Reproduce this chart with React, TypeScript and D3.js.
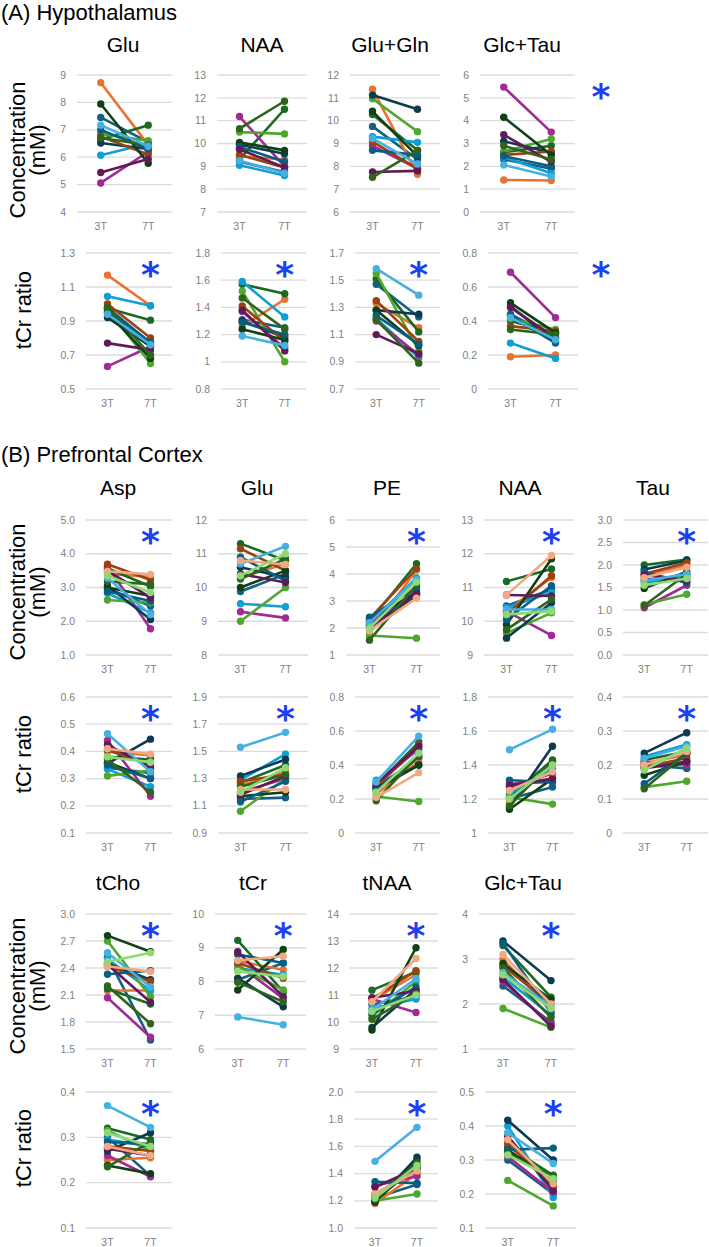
import * as d3 from 'd3';

const sessions = ['3T', '7T'];

// subject colours (Office palette order)
const hypColors = ['#156082', '#E97132', '#196B24', '#0F9ED5', '#A02B93', '#4EA72E', '#0D3A4E', '#9A4311', '#0F4016', '#095F80', '#601A58', '#2F641C', '#46B0E1'];
const pfcColors = [...hypColors, '#F1A983', '#8ED973'];

// Hypothalamus, concentration (mM): [3T, 7T] per subject
const hypGluConc: [number, number][] = [[7.45, 6.55], [8.72, 6.45], [6.65, 7.17], [6.07, 6.5], [5.06, 6.2], [6.85, 6.6], [6.52, 6.3], [6.75, 6.1], [7.94, 5.78], [6.99, 6.3], [5.44, 5.93], [6.7, 6.45], [7.17, 6.4]];
const hypNaaConc: [number, number][] = [[9.2, 8.75], [9.45, 9.3], [9.3, 11.5], [9.05, 8.6], [11.18, 9.0], [10.5, 10.42], [9.95, 9.55], [9.5, 8.95], [10.05, 9.7], [9.85, 9.2], [9.75, 8.95], [10.65, 11.85], [9.25, 8.7]];
const hypGlxConc: [number, number][] = [[9.75, 8.3], [11.38, 7.65], [10.27, 8.7], [9.3, 9.05], [8.9, 7.9], [10.96, 9.52], [11.12, 10.5], [9.08, 7.9], [10.41, 8.45], [8.7, 8.5], [7.75, 7.8], [7.52, 8.7], [9.22, 8.1]];
const hypGlcTauConc: [number, number][] = [[2.3, 1.9], [1.4, 1.38], [2.62, 2.9], [2.4, 1.7], [5.47, 3.5], [2.65, 3.2], [3.1, 2.6], [2.5, 2.65], [4.15, 2.5], [2.45, 2.0], [3.38, 2.2], [2.9, 2.3], [2.06, 1.55]];

// Hypothalamus, ratio to tCr
const hypGluRatio: [number, number][] = [[0.98, 0.77], [1.17, 0.99], [0.975, 0.905], [1.045, 0.99], [0.633, 0.75], [0.97, 0.65], [0.92, 0.75], [1.0, 0.8], [0.95, 0.68], [0.96, 0.775], [0.77, 0.73], [0.98, 0.7], [0.94, 0.76]];
const hypNaaRatio: [number, number][] = [[1.31, 1.25], [1.26, 1.46], [1.57, 1.5], [1.59, 1.33], [1.37, 1.1], [1.52, 1.0], [1.3, 1.18], [1.41, 1.15], [1.24, 1.16], [1.29, 1.2], [1.38, 1.08], [1.47, 1.24], [1.19, 1.12]];
const hypGlxRatio: [number, number][] = [[1.47, 1.23], [1.33, 1.15], [1.51, 1.12], [1.22, 0.93], [1.2, 0.95], [1.55, 0.98], [1.28, 1.25], [1.35, 1.05], [1.28, 1.02], [1.24, 1.03], [1.1, 0.96], [1.21, 0.89], [1.585, 1.39]];
const hypGlcTauRatio: [number, number][] = [[0.44, 0.3], [0.19, 0.2], [0.4, 0.33], [0.27, 0.18], [0.687, 0.42], [0.415, 0.35], [0.486, 0.28], [0.37, 0.34], [0.507, 0.33], [0.43, 0.27], [0.48, 0.3], [0.35, 0.32], [0.42, 0.29]];

// Prefrontal cortex, concentration (mM)
const pfcAspConc: [number, number][] = [[2.97, 2.45], [3.4, 3.32], [3.57, 3.03], [2.83, 2.25], [3.62, 1.78], [2.63, 2.55], [3.05, 2.05], [3.69, 3.22], [3.0, 2.75], [2.88, 2.6], [3.5, 2.7], [3.18, 3.1], [3.28, 2.2], [3.48, 3.39], [3.35, 2.85]];
const pfcGluConc: [number, number][] = [[9.88, 10.4], [10.3, 10.7], [11.3, 10.8], [9.52, 9.43], [9.28, 9.1], [9.0, 10.0], [10.6, 10.3], [11.15, 10.5], [10.0, 10.5], [10.9, 10.2], [10.4, 10.15], [10.25, 10.85], [10.7, 11.22], [10.8, 10.68], [10.35, 11.0]];
const pfcPeConc: [number, number][] = [[2.1, 3.3], [1.8, 4.15], [2.25, 4.38], [2.2, 3.85], [2.15, 3.4], [1.72, 1.62], [2.3, 3.3], [2.35, 4.2], [2.05, 3.2], [2.4, 3.5], [2.0, 3.25], [1.55, 3.6], [2.2, 3.8], [1.9, 3.1], [2.0, 3.7]];
const pfcNaaConc: [number, number][] = [[10.45, 10.95], [10.3, 11.3], [11.18, 11.55], [10.4, 10.85], [10.3, 9.58], [9.65, 10.25], [9.5, 10.55], [10.2, 11.35], [9.9, 11.85], [10.05, 11.05], [10.78, 10.75], [9.75, 10.65], [10.35, 10.35], [10.78, 11.95], [10.2, 10.3]];
const pfcTauConc: [number, number][] = [[1.68, 1.7], [1.75, 2.0], [2.0, 2.12], [1.6, 1.75], [1.05, 1.55], [1.12, 1.35], [1.9, 2.1], [1.8, 2.05], [1.48, 1.85], [1.85, 1.6], [1.78, 1.65], [1.1, 1.8], [1.65, 1.8], [1.72, 1.95], [1.55, 1.7]];
const pfcChoConc: [number, number][] = [[2.52, 1.6], [2.15, 2.15], [2.17, 2.0], [2.5, 2.15], [2.07, 1.63], [2.7, 2.08], [2.45, 2.27], [2.42, 2.25], [2.76, 2.58], [2.33, 2.37], [2.44, 2.02], [2.2, 1.78], [2.57, 2.19], [2.42, 2.36], [2.47, 2.57]];
const pfcCrConc: [number, number][] = [[8.05, 8.55], [8.6, 8.35], [9.22, 7.7], [8.4, 8.2], [8.5, 7.5], [8.45, 7.75], [8.1, 7.25], [8.55, 8.1], [7.75, 8.95], [8.8, 8.55], [8.88, 7.55], [7.98, 7.4], [6.95, 6.72], [8.62, 8.75], [8.3, 8.15]];
const pfcTnaaConc: [number, number][] = [[10.65, 10.95], [10.8, 11.75], [11.18, 11.85], [10.5, 10.85], [10.85, 10.35], [10.2, 11.5], [9.8, 11.2], [10.85, 11.9], [9.7, 12.75], [10.3, 11.3], [10.9, 11.15], [10.1, 11.05], [10.45, 11.6], [10.75, 12.35], [10.4, 11.0]];
const pfcGlcTauConc: [number, number][] = [[2.4, 1.6], [3.0, 1.85], [3.3, 2.15], [2.6, 1.75], [2.5, 1.55], [1.9, 1.48], [3.4, 2.52], [2.85, 2.0], [2.9, 2.1], [3.35, 1.8], [2.55, 1.5], [2.8, 1.7], [2.7, 1.95], [3.1, 2.0], [2.65, 1.9]];

// Prefrontal cortex, ratio to tCr
const pfcAspRatio: [number, number][] = [[0.34, 0.32], [0.4, 0.385], [0.38, 0.37], [0.335, 0.27], [0.44, 0.235], [0.31, 0.33], [0.355, 0.445], [0.405, 0.35], [0.36, 0.3], [0.35, 0.3], [0.425, 0.34], [0.37, 0.25], [0.465, 0.325], [0.41, 0.39], [0.38, 0.36]];
const pfcGluRatio: [number, number][] = [[1.15, 1.16], [1.25, 1.35], [1.27, 1.4], [1.29, 1.48], [1.2, 1.3], [1.06, 1.3], [1.32, 1.44], [1.28, 1.33], [1.17, 1.2], [1.13, 1.28], [1.18, 1.32], [1.24, 1.33], [1.53, 1.64], [1.22, 1.22], [1.2, 1.38]];
const pfcPeRatio: [number, number][] = [[0.27, 0.44], [0.23, 0.42], [0.28, 0.535], [0.31, 0.49], [0.28, 0.5], [0.215, 0.185], [0.26, 0.4], [0.27, 0.52], [0.265, 0.4], [0.25, 0.45], [0.29, 0.51], [0.19, 0.46], [0.3, 0.57], [0.21, 0.355], [0.24, 0.47]];
const pfcNaaRatio: [number, number][] = [[1.2, 1.27], [1.18, 1.4], [1.21, 1.43], [1.23, 1.38], [1.29, 1.3], [1.21, 1.17], [1.15, 1.51], [1.27, 1.35], [1.14, 1.32], [1.31, 1.3], [1.28, 1.32], [1.16, 1.42], [1.49, 1.61], [1.25, 1.36], [1.2, 1.4]];
const pfcTauRatio: [number, number][] = [[0.2, 0.19], [0.205, 0.23], [0.215, 0.24], [0.225, 0.26], [0.21, 0.2], [0.135, 0.152], [0.235, 0.295], [0.195, 0.22], [0.17, 0.21], [0.145, 0.235], [0.19, 0.21], [0.13, 0.235], [0.22, 0.255], [0.2, 0.24], [0.185, 0.25]];
const pfcChoRatio: [number, number][] = [[0.3, 0.215], [0.25, 0.255], [0.32, 0.295], [0.295, 0.28], [0.26, 0.213], [0.315, 0.27], [0.27, 0.31], [0.28, 0.27], [0.238, 0.22], [0.29, 0.285], [0.275, 0.26], [0.235, 0.29], [0.37, 0.322], [0.28, 0.26], [0.31, 0.28]];
const pfcTnaaRatio: [number, number][] = [[1.22, 1.32], [1.18, 1.4], [1.21, 1.5], [1.24, 1.44], [1.31, 1.38], [1.2, 1.25], [1.19, 1.52], [1.25, 1.42], [1.2, 1.46], [1.34, 1.33], [1.3, 1.44], [1.21, 1.48], [1.49, 1.74], [1.25, 1.42], [1.22, 1.46]];
const pfcGlcTauRatio: [number, number][] = [[0.3, 0.2], [0.355, 0.225], [0.34, 0.255], [0.4, 0.19], [0.31, 0.205], [0.24, 0.165], [0.417, 0.3], [0.35, 0.22], [0.33, 0.24], [0.33, 0.335], [0.37, 0.21], [0.32, 0.25], [0.38, 0.29], [0.36, 0.23], [0.315, 0.245]];

// axis tick labels, bottom to top
const hypGluConcTicks = ['4', '5', '6', '7', '8', '9'];
const hypNaaConcTicks = ['7', '8', '9', '10', '11', '12', '13'];
const hypGlxConcTicks = ['6', '7', '8', '9', '10', '11', '12'];
const hypGlcTauConcTicks = ['0', '1', '2', '3', '4', '5', '6'];
const hypGluRatioTicks = ['0.5', '0.7', '0.9', '1.1', '1.3'];
const hypNaaRatioTicks = ['0.8', '1', '1.2', '1.4', '1.6', '1.8'];
const hypGlxRatioTicks = ['0.7', '0.9', '1.1', '1.3', '1.5', '1.7'];
const hypGlcTauRatioTicks = ['0', '0.2', '0.4', '0.6', '0.8'];
const pfcAspConcTicks = ['1.0', '2.0', '3.0', '4.0', '5.0'];
const pfcGluConcTicks = ['8', '9', '10', '11', '12'];
const pfcPeConcTicks = ['1', '2', '3', '4', '5', '6'];
const pfcNaaConcTicks = ['9', '10', '11', '12', '13'];
const pfcTauConcTicks = ['0.0', '0.5', '1.0', '1.5', '2.0', '2.5', '3.0'];
const pfcAspRatioTicks = ['0.1', '0.2', '0.3', '0.4', '0.5', '0.6'];
const pfcGluRatioTicks = ['0.9', '1.1', '1.3', '1.5', '1.7', '1.9'];
const pfcPeRatioTicks = ['0', '0.2', '0.4', '0.6', '0.8'];
const pfcNaaRatioTicks = ['1', '1.2', '1.4', '1.6', '1.8'];
const pfcTauRatioTicks = ['0', '0.1', '0.2', '0.3', '0.4'];
const pfcChoConcTicks = ['1.5', '1.8', '2.1', '2.4', '2.7', '3.0'];
const pfcCrConcTicks = ['6', '7', '8', '9', '10'];
const pfcTnaaConcTicks = ['9', '10', '11', '12', '13', '14'];
const pfcGlcTauConcTicks = ['1', '2', '3', '4'];
const pfcChoRatioTicks = ['0.1', '0.2', '0.3', '0.4'];
const pfcTnaaRatioTicks = ['1.0', '1.2', '1.4', '1.6', '1.8', '2.0'];
const pfcGlcTauRatioTicks = ['0.1', '0.2', '0.3', '0.4', '0.5'];

type Row = { top: number; bottom: number };
const rowA1: Row = { top: 75, bottom: 212 };
const rowA2: Row = { top: 253, bottom: 389 };
const rowB1: Row = { top: 520, bottom: 655 };
const rowB2: Row = { top: 697, bottom: 833 };
const rowB3: Row = { top: 914, bottom: 1049 };
const rowB4: Row = { top: 1092, bottom: 1228 };

type PanelSpec = {
  pairs: [number, number][];
  ticks: string[];
  colors: string[];
  row: Row;
  x0: number;
  x1: number;
  star?: boolean;
  starX?: number;
};

const panels: PanelSpec[] = [
  { pairs: hypGluConc, ticks: hypGluConcTicks, colors: hypColors, row: rowA1, x0: 77, x1: 172 },
  { pairs: hypNaaConc, ticks: hypNaaConcTicks, colors: hypColors, row: rowA1, x0: 217, x1: 307 },
  { pairs: hypGlxConc, ticks: hypGlxConcTicks, colors: hypColors, row: rowA1, x0: 350, x1: 440 },
  { pairs: hypGlcTauConc, ticks: hypGlcTauConcTicks, colors: hypColors, row: rowA1, x0: 480, x1: 575, star: true, starX: 601 },
  { pairs: hypGluRatio, ticks: hypGluRatioTicks, colors: hypColors, row: rowA2, x0: 86, x1: 172, star: true },
  { pairs: hypNaaRatio, ticks: hypNaaRatioTicks, colors: hypColors, row: rowA2, x0: 221, x1: 306, star: true },
  { pairs: hypGlxRatio, ticks: hypGlxRatioTicks, colors: hypColors, row: rowA2, x0: 355, x1: 440, star: true },
  { pairs: hypGlcTauRatio, ticks: hypGlcTauRatioTicks, colors: hypColors, row: rowA2, x0: 488, x1: 578, star: true, starX: 601 },

  { pairs: pfcAspConc, ticks: pfcAspConcTicks, colors: pfcColors, row: rowB1, x0: 86, x1: 172, star: true },
  { pairs: pfcGluConc, ticks: pfcGluConcTicks, colors: pfcColors, row: rowB1, x0: 218, x1: 308 },
  { pairs: pfcPeConc, ticks: pfcPeConcTicks, colors: pfcColors, row: rowB1, x0: 346, x1: 440, star: true },
  { pairs: pfcNaaConc, ticks: pfcNaaConcTicks, colors: pfcColors, row: rowB1, x0: 484, x1: 574, star: true },
  { pairs: pfcTauConc, ticks: pfcTauConcTicks, colors: pfcColors, row: rowB1, x0: 623, x1: 708, star: true },
  { pairs: pfcAspRatio, ticks: pfcAspRatioTicks, colors: pfcColors, row: rowB2, x0: 86, x1: 172, star: true },
  { pairs: pfcGluRatio, ticks: pfcGluRatioTicks, colors: pfcColors, row: rowB2, x0: 218, x1: 308, star: true },
  { pairs: pfcPeRatio, ticks: pfcPeRatioTicks, colors: pfcColors, row: rowB2, x0: 355, x1: 440, star: true },
  { pairs: pfcNaaRatio, ticks: pfcNaaRatioTicks, colors: pfcColors, row: rowB2, x0: 488, x1: 574, star: true },
  { pairs: pfcTauRatio, ticks: pfcTauRatioTicks, colors: pfcColors, row: rowB2, x0: 623, x1: 708, star: true },
  { pairs: pfcChoConc, ticks: pfcChoConcTicks, colors: pfcColors, row: rowB3, x0: 86, x1: 172, star: true },
  { pairs: pfcCrConc, ticks: pfcCrConcTicks, colors: pfcColors, row: rowB3, x0: 215, x1: 306, star: true },
  { pairs: pfcTnaaConc, ticks: pfcTnaaConcTicks, colors: pfcColors, row: rowB3, x0: 350, x1: 438, star: true },
  { pairs: pfcGlcTauConc, ticks: pfcGlcTauConcTicks, colors: pfcColors, row: rowB3, x0: 479, x1: 575, star: true },
  { pairs: pfcChoRatio, ticks: pfcChoRatioTicks, colors: pfcColors, row: rowB4, x0: 86, x1: 172, star: true },
  { pairs: pfcTnaaRatio, ticks: pfcTnaaRatioTicks, colors: pfcColors, row: rowB4, x0: 354, x1: 438, star: true },
  { pairs: pfcGlcTauRatio, ticks: pfcGlcTauRatioTicks, colors: pfcColors, row: rowB4, x0: 485, x1: 576, star: true },
];

const panelTitles = [
  { text: 'Glu', x: 123, y: 52 }, { text: 'NAA', x: 262, y: 52 }, { text: 'Glu+Gln', x: 390, y: 52 }, { text: 'Glc+Tau', x: 522, y: 52 },
  { text: 'Asp', x: 118, y: 495 }, { text: 'Glu', x: 257, y: 495 }, { text: 'PE', x: 387, y: 495 }, { text: 'NAA', x: 520, y: 495 }, { text: 'Tau', x: 653, y: 495 },
  { text: 'tCho', x: 118, y: 890 }, { text: 'tCr', x: 253, y: 890 }, { text: 'tNAA', x: 387, y: 890 }, { text: 'Glc+Tau', x: 523, y: 890 },
];

const FONT = '"Liberation Sans", Arial, sans-serif';
const STAR = '#1d40f0';

function Panel({ spec }: { spec: PanelSpec }) {
  const x = d3.scalePoint<string>().domain(sessions).range([spec.x0, spec.x1]).padding(0.5);
  const lo = +spec.ticks[0];
  const hi = +spec.ticks[spec.ticks.length - 1];
  const y = d3.scaleLinear().domain([lo, hi]).range([spec.row.bottom, spec.row.top]);
  const line = d3.line<number>().x((_, i) => x(sessions[i])!).y((d) => y(d));

  return (
    <g>
      {spec.ticks.map((t) => (
        <g key={t}>
          <line x1={spec.x0} x2={spec.x1} y1={y(+t)} y2={y(+t)} stroke="#dcdcdc" strokeWidth={1.3} />
          <text x={spec.x0 - 11} y={y(+t)} dy="0.35em" textAnchor="end" fontSize={10.5} fill="#7f7f7f">{t}</text>
        </g>
      ))}
      {sessions.map((s) => (
        <text key={s} x={x(s)} y={spec.row.bottom + 18} textAnchor="middle" fontSize={10.5} fill="#7f7f7f">{s}</text>
      ))}
      {spec.pairs.map((v, i) => (
        <g key={i}>
          <path d={line(v) ?? ''} fill="none" stroke={spec.colors[i]} strokeWidth={2.6} />
          {v.map((d, j) => (
            <circle key={j} cx={x(sessions[j])} cy={y(d)} r={3.7} fill={spec.colors[i]} />
          ))}
        </g>
      ))}
      {spec.star && (
        <text x={spec.starX ?? x('7T')} y={spec.row.top + 34} textAnchor="middle" fontSize={36} fontWeight="bold" fill={STAR} fontFamily='"DejaVu Sans", sans-serif'>*</text>
      )}
    </g>
  );
}

function YTitle({ cy, lines, x }: { cy: number; lines: string[]; x: number[] }) {
  return (
    <g>
      {lines.map((l, i) => (
        <text key={l} transform={`translate(${x[i]},${cy}) rotate(-90)`} textAnchor="middle" fontSize={22} fill="#000">{l}</text>
      ))}
    </g>
  );
}

export default function App() {
  const conc = ['Concentration', '(mM)'];
  return (
    <svg width={709} height={1247} style={{ position: 'absolute', left: 0, top: 0, background: '#fff' }} fontFamily={FONT}>
      <rect width={709} height={1247} fill="#fff" />
      <text x={1} y={20} fontSize={22}>(A) Hypothalamus</text>
      <text x={1} y={462} fontSize={22}>(B) Prefrontal Cortex</text>
      {panelTitles.map((t, i) => (
        <text key={i} x={t.x} y={t.y} textAnchor="middle" fontSize={21}>{t.text}</text>
      ))}
      <YTitle cy={150} lines={conc} x={[25, 45]} />
      <YTitle cy={310} lines={['tCr ratio']} x={[31]} />
      <YTitle cy={592} lines={conc} x={[25, 45]} />
      <YTitle cy={754} lines={['tCr ratio']} x={[31]} />
      <YTitle cy={986} lines={conc} x={[25, 45]} />
      <YTitle cy={1148} lines={['tCr ratio']} x={[31]} />
      {panels.map((p, i) => (
        <Panel key={i} spec={p} />
      ))}
    </svg>
  );
}
